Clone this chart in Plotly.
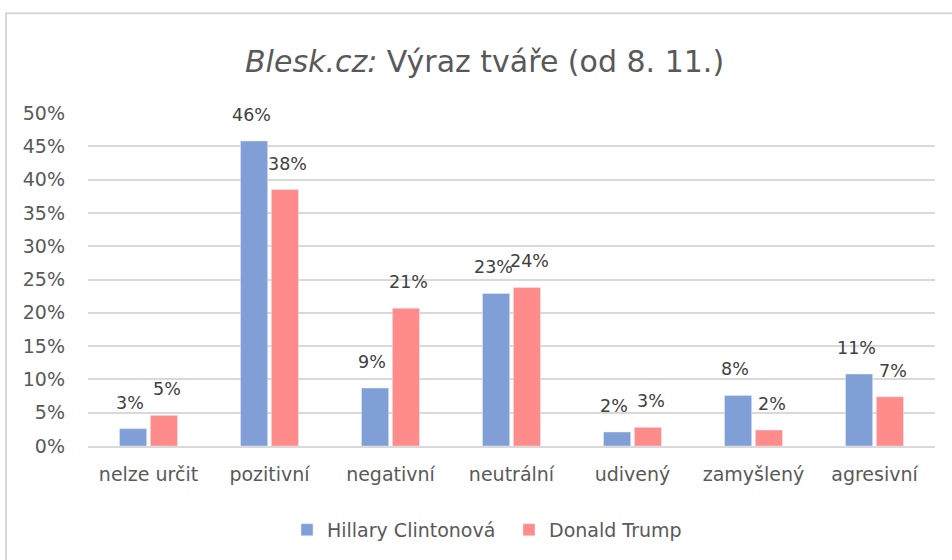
import plotly.graph_objects as go

categories = ["nelze určit", "pozitivní", "negativní", "neutrální", "udivený", "zamyšlený", "agresivní"]
hillary = [0.026, 0.458, 0.087, 0.229, 0.021, 0.076, 0.108]
trump = [0.046, 0.385, 0.207, 0.238, 0.028, 0.024, 0.074]
y_ticks = [0, 0.05, 0.10, 0.15, 0.20, 0.25, 0.30, 0.35, 0.40, 0.45, 0.50]
y_tick_text = [f"{int(round(v*100))}%" for v in y_ticks]

FONT = "DejaVu Sans, Open Sans, sans-serif"
COLORS = ["#7F9FD6", "#FF8B8B"]

# bar geometry (fractions of a category slot)
BARGAP = 0.49
BARGROUPGAP = 0.12
L, R = 88, 17
plot_w = 952 - L - R
slot = plot_w / len(categories)
half_group = slot * (1 - BARGAP) / 2

fig = go.Figure()
for name, vals, col in [("Hillary Clintonová", hillary, COLORS[0]), ("Donald Trump", trump, COLORS[1])]:
    fig.add_trace(go.Bar(name=name, x=categories, y=vals, marker=dict(color=col)))

for i, (vals, sign) in enumerate([(hillary, -1), (trump, 1)]):
    for c, v in zip(categories, vals):
        fig.add_annotation(x=c, y=v, xref="x", yref="y", text=f"{round(v*100):.0f}%",
                           showarrow=False, yanchor="bottom", xanchor="center",
                           xshift=sign * (half_group / 2 + 3), yshift=14,
                           font=dict(size=17.5, color="#404040", family=FONT))

fig.update_layout(
    width=952, height=560,
    margin=dict(l=L, r=R, t=113, b=113),
    paper_bgcolor="white", plot_bgcolor="white",
    font=dict(family=FONT, color="#595959", size=19),
    title=dict(text="<i>Blesk.cz:</i> Výraz tváře (od 8. 11.)", x=0.509, xanchor="center",
               y=0.89, yanchor="middle", font=dict(size=30, color="#595959", family=FONT)),
    barmode="group", bargap=BARGAP, bargroupgap=BARGROUPGAP,
    legend=dict(orientation="h", x=(287 - L) / plot_w, xanchor="left", y=-0.248, yanchor="middle",
                font=dict(size=19, color="#595959"), itemwidth=30, entrywidth=177,
                traceorder="normal"),
)
fig.update_yaxes(range=[0, 0.5], tickvals=y_ticks, ticktext=y_tick_text, showgrid=True,
                 gridcolor="#D9D9D9", gridwidth=2, zeroline=False, showline=False,
                 ticks="", ticklabelstandoff=22, tickfont=dict(size=19, color="#595959"))
fig.update_xaxes(showline=True, linecolor="#D9D9D9", linewidth=2, ticks="",
                 tickfont=dict(size=19, color="#595959"), ticklabelstandoff=10)

fig.add_shape(type="rect", xref="paper", yref="paper",
              x0=(6-88)/847, x1=1.2, y0=-0.6, y1=1 + 100/334,
              line=dict(color="#D9D9D9", width=2), fillcolor="rgba(0,0,0,0)", layer="below")

fig.write_html("out.html")
